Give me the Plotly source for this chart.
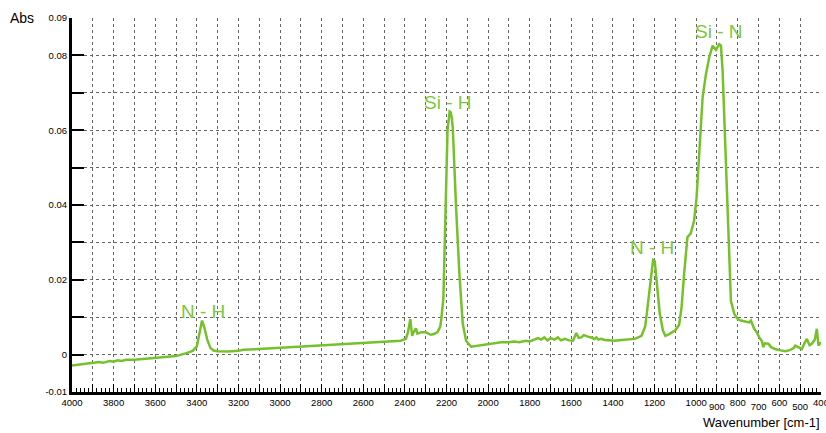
import plotly.graph_objects as go

wavenumber = [4000, 3950, 3900, 3870, 3850, 3820, 3800, 3780, 3760, 3740, 3700, 3680, 3650, 3620, 3600,
              3550, 3500, 3450, 3420, 3400, 3385, 3375, 3365, 3350, 3335, 3320, 3300, 3250, 3200, 3176,
              3100, 3000, 2900, 2800, 2700, 2600, 2500, 2420, 2395, 2385, 2374, 2365, 2360, 2347, 2340,
              2320, 2300, 2275, 2260, 2243, 2230, 2225, 2215, 2208, 2202, 2195, 2185, 2180, 2175, 2170,
              2154, 2138, 2122, 2106, 2082, 2050, 2019, 1980, 1937, 1900, 1875, 1850, 1820, 1800, 1777,
              1760, 1745, 1730, 1715, 1700, 1681, 1665, 1650, 1632, 1610, 1592, 1576, 1565, 1552, 1540,
              1520, 1500, 1490, 1480, 1470, 1456, 1440, 1420, 1391, 1360, 1330, 1295, 1263, 1245, 1235,
              1223, 1207, 1199, 1191, 1175, 1160, 1148, 1130, 1116, 1100, 1082, 1070, 1058, 1042, 1026,
              1010, 998, 985, 969, 953, 937, 921, 905, 889, 881, 873, 865, 857, 849, 841,
              833, 817, 800, 785, 760, 745, 737, 721, 709, 697, 685, 677, 670, 653, 640,
              621, 600, 572, 550, 530, 524, 510, 492, 480, 468, 455, 444, 430, 420, 412, 400]
absorbance = [-0.0029, -0.0026, -0.0023, -0.0020, -0.0022, -0.0017, -0.0019, -0.0015, -0.0017, -0.0014, -0.0014, -0.0013, -0.0011, -0.0010, -0.0009,
              -0.0006, -0.0004, 0.0004, 0.0010, 0.0022, 0.0060, 0.0091, 0.0075, 0.0040, 0.0018, 0.0011, 0.0009, 0.0008, 0.0010, 0.0013,
              0.0015, 0.0018, 0.0021, 0.0024, 0.0027, 0.0030, 0.0034, 0.0037, 0.0042, 0.0060, 0.0095, 0.0050, 0.0058, 0.0070, 0.0056,
              0.0060, 0.0060, 0.0053, 0.0055, 0.0060, 0.0075, 0.0095, 0.0150, 0.0300, 0.0440, 0.0600, 0.0650, 0.0648, 0.0635, 0.0608,
              0.0394, 0.0216, 0.0083, 0.0037, 0.0021, 0.0024, 0.0027, 0.0030, 0.0033, 0.0033, 0.0035, 0.0033, 0.0037, 0.0035, 0.0039,
              0.0044, 0.0040, 0.0046, 0.0038, 0.0044, 0.0040, 0.0046, 0.0038, 0.0042, 0.0038, 0.0037, 0.0058, 0.0045, 0.0046, 0.0052,
              0.0048, 0.0045, 0.0041, 0.0046, 0.0040, 0.0042, 0.0039, 0.0038, 0.0037, 0.0039, 0.0040, 0.0042, 0.0050, 0.0075, 0.0120,
              0.0180, 0.0253, 0.0250, 0.0198, 0.0109, 0.0065, 0.0050, 0.0055, 0.0060, 0.0065, 0.0080, 0.0127, 0.0216, 0.0314, 0.0324,
              0.0358, 0.0420, 0.0537, 0.0688, 0.0750, 0.0795, 0.0826, 0.0815, 0.0830, 0.0826, 0.0760, 0.0626, 0.0492, 0.0358, 0.0233,
              0.0144, 0.0109, 0.0095, 0.0091, 0.0087, 0.0086, 0.0091, 0.0069, 0.0060, 0.0046, 0.0037, 0.0020, 0.0030, 0.0029, 0.0020,
              0.0015, 0.0012, 0.0009, 0.0012, 0.0018, 0.0024, 0.0020, 0.0015, 0.0030, 0.0042, 0.0025, 0.0029, 0.0040, 0.0069, 0.0024, 0.0033]

# x tick labels: even hundreds on the main axis, odd hundreds below 1000 on an overlay axis
x_tickvals = list(range(4000, 399, -100))
x_ticktext = [str(v) if v % 200 == 0 else "" for v in x_tickvals]
x2_tickvals = [900, 700, 500]
x2_ticktext = ["900", "700", "500"]
y_tickvals = [-0.01, 0, 0.01, 0.02, 0.03, 0.04, 0.05, 0.06, 0.07, 0.08, 0.09]
y_ticktext = ["-0.01", "0", "", "0.02", "", "0.04", "", "0.06", "", "0.08", "0.09"]

peak_labels = ["N - H", "Si - H", "N - H", "Si - N"]
peak_x = [3369, 2193, 1210, 892]
peak_y = [0.0115, 0.0674, 0.0286, 0.0864]

line_color = "#76C12B"
text_color = "#7CC63A"
font_family = "Liberation Sans, Arial, sans-serif"

fig = go.Figure()
fig.add_trace(go.Scatter(x=wavenumber, y=absorbance, mode="lines",
                         line=dict(color=line_color, width=2.5), showlegend=False,
                         hoverinfo="skip"))
# invisible helper so the overlay label axis is rendered
fig.add_trace(go.Scatter(x=wavenumber, y=absorbance, mode="lines", xaxis="x2", yaxis="y",
                         line=dict(color="rgba(0,0,0,0)", width=0), showlegend=False,
                         hoverinfo="skip"))

for lbl, px_, py_ in zip(peak_labels, peak_x, peak_y):
    fig.add_annotation(x=px_, y=py_, text=lbl, showarrow=False, xref="x", yref="y",
                       font=dict(family=font_family, size=19, color=text_color))

fig.add_annotation(x=-0.067, y=1.0, xref="paper", yref="paper", text="Abs", showarrow=False,
                   xanchor="center", yanchor="middle",
                   font=dict(family=font_family, size=14, color="black"))
fig.add_annotation(x=1.001, y=-0.107, xref="paper", yref="paper", text="Wavenumber [cm-1]",
                   showarrow=False, xanchor="right", yanchor="bottom",
                   font=dict(family=font_family, size=13, color="black"))

fig.update_layout(
    width=826, height=433,
    margin=dict(l=72, r=5, t=18, b=41, autoexpand=False),
    paper_bgcolor="white", plot_bgcolor="white",
    font=dict(family=font_family, size=9, color="black"),
    xaxis=dict(range=[4000, 400], tickmode="array", tickvals=x_tickvals, ticktext=x_ticktext,
               tickangle=0, ticklabeloverflow="allow", automargin=False,
               showgrid=True, gridcolor="#666666", griddash="dot", gridwidth=1,
               showline=True, linecolor="black", linewidth=3,
               ticks="inside", ticklen=8, tickwidth=1, tickcolor="black",
               minor=dict(dtick=20, ticks="inside", ticklen=4, tickcolor="black", showgrid=False),
               zeroline=False, tickfont=dict(size=9.5)),
    xaxis2=dict(range=[4000, 400], overlaying="x", anchor="y", side="bottom",
                tickmode="array", tickvals=x2_tickvals, ticktext=x2_ticktext,
                tickangle=0, ticklabeloverflow="allow", automargin=False,
                ticklabelstandoff=7,
                showgrid=False, showline=False, ticks="", zeroline=False,
                tickfont=dict(size=9.5)),
    yaxis=dict(range=[-0.01, 0.09], tickmode="array", tickvals=y_tickvals, ticktext=y_ticktext,
               automargin=False,
               showgrid=True, gridcolor="#666666", griddash="dot", gridwidth=1,
               showline=True, linecolor="black", linewidth=3,
               ticks="inside", ticklen=12, tickwidth=2, tickcolor="black",
               zeroline=False, tickfont=dict(size=9.5)),
)

fig.write_html("out.html")
